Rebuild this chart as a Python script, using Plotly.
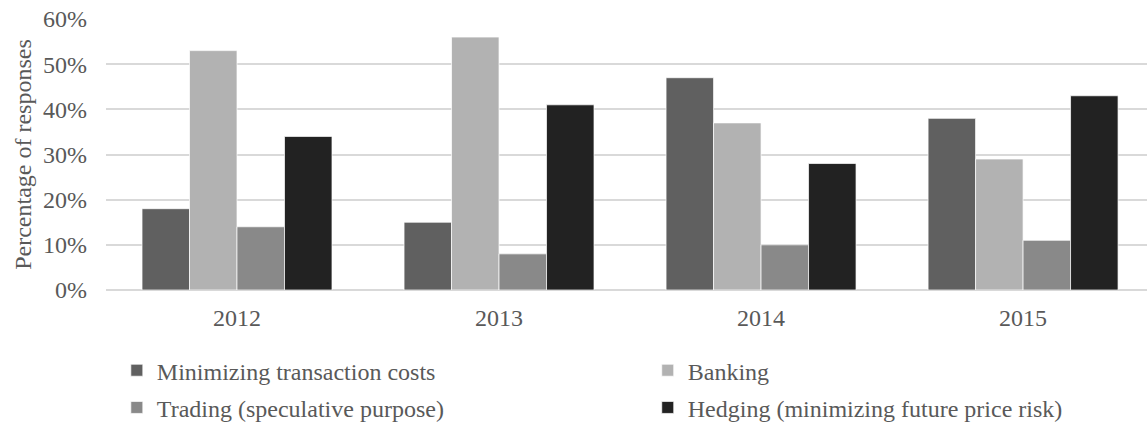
import plotly.graph_objects as go

years = ["2012", "2013", "2014", "2015"]
minimizing = [18, 15, 47, 38]
banking = [53, 56, 37, 29]
trading = [14, 8, 10, 11]
hedging = [34, 41, 28, 43]

series = [
    ("Minimizing transaction costs", minimizing, "#606060", "legend"),
    ("Banking", banking, "#b2b2b2", "legend2"),
    ("Trading (speculative purpose)", trading, "#898989", "legend"),
    ("Hedging (minimizing future price risk)", hedging, "#222222", "legend2"),
]

FONT = "Liberation Serif"
TXT = "#595959"
FS = 24

fig = go.Figure()
for name, vals, color, leg in series:
    fig.add_trace(go.Bar(
        x=years, y=vals, name=name, legend=leg, legendgroup=name,
        marker=dict(color=color, line=dict(color="rgba(255,255,255,0.7)", width=1)),
    ))

legend_style = dict(
    orientation="v", yanchor="top", xanchor="left", yref="container",
    font=dict(family=FONT, size=FS, color=TXT),
    bgcolor="rgba(0,0,0,0)", tracegroupgap=3,
)

fig.update_layout(
    width=1147, height=423,
    margin=dict(l=106, r=0, t=19, b=133, autoexpand=False),
    paper_bgcolor="white", plot_bgcolor="white",
    barmode="group", bargap=0.275, bargroupgap=0,
    font=dict(family=FONT, size=FS, color=TXT),
    showlegend=True,
    legend=dict(x=0.0104, y=0.177, **legend_style),
    legend2=dict(x=0.5204, y=0.177, **legend_style),
    xaxis=dict(
        range=[-0.5, 3.473], showgrid=False, zeroline=False,
        showline=False, ticks="", ticklabelstandoff=11,
        tickfont=dict(family=FONT, size=FS, color=TXT),
    ),
    yaxis=dict(
        range=[0, 60], dtick=10, ticksuffix="%",
        showgrid=True, gridcolor="#d9d9d9", gridwidth=1.5,
        zeroline=True, zerolinecolor="#d9d9d9", zerolinewidth=1.5,
        showline=False, ticks="", ticklabelstandoff=18,
        tickfont=dict(family=FONT, size=FS, color=TXT),
        title=dict(text="Percentage of responses", standoff=4,
                   font=dict(family=FONT, size=FS, color=TXT)),
    ),
)

fig.write_html("out.html")
